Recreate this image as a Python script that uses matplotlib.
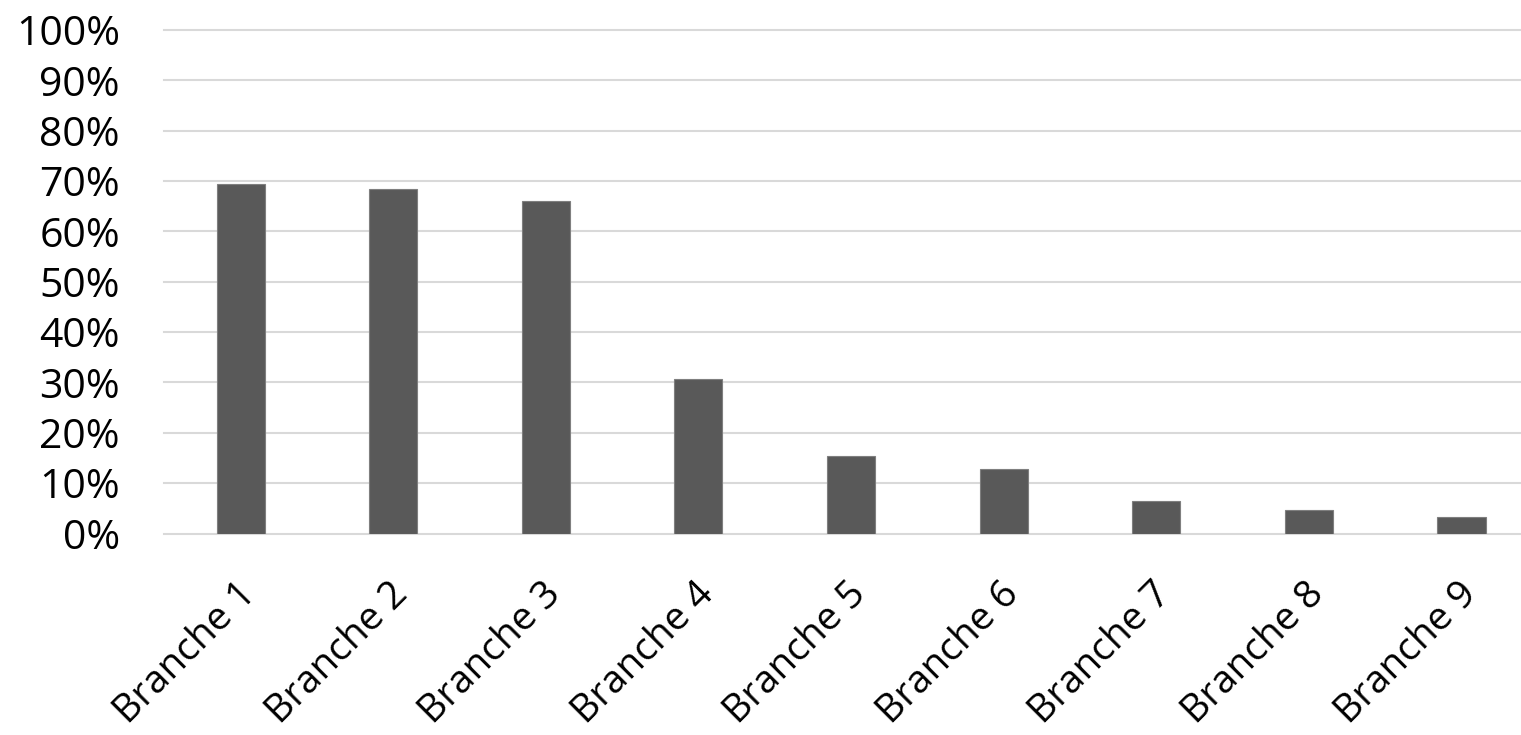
import matplotlib
matplotlib.use("Agg")
import matplotlib.pyplot as plt
from matplotlib.ticker import PercentFormatter
from matplotlib.transforms import ScaledTranslation

categories = ["Branche 1", "Branche 2", "Branche 3", "Branche 4", "Branche 5",
              "Branche 6", "Branche 7", "Branche 8", "Branche 9"]
shares = [0.694, 0.684, 0.660, 0.306, 0.153, 0.129, 0.065, 0.047, 0.032]
y_ticks = [i / 10 for i in range(11)]

plt.rcParams["font.family"] = ["Open Sans", "DejaVu Sans"]

fig = plt.figure(figsize=(15.21, 7.35), dpi=100)
ax = fig.add_axes([0.108, 0.2741, 0.892, 0.6851])

x = list(range(len(categories)))
ax.bar(x, shares, width=0.315, color="#595959", edgecolor="#7f7f7f",
       linewidth=0.8, zorder=3)

ax.set_xlim(-0.5, 8.39)
ax.set_ylim(0, 1)
ax.set_yticks(y_ticks)
ax.yaxis.set_major_formatter(PercentFormatter(1.0, decimals=0))
ax.set_xticks(x)
ax.set_xticklabels(categories, rotation=45, ha="right", va="top",
                   rotation_mode="anchor")

ax.tick_params(axis="y", length=0, pad=32, labelsize=29.5)
ax.tick_params(axis="x", length=0, pad=30, labelsize=28)

# nudge the slanted category labels slightly to the left
shift = ScaledTranslation(-4 / 100, 0, fig.dpi_scale_trans)
for lbl in ax.get_xticklabels():
    lbl.set_transform(lbl.get_transform() + shift)

ax.grid(axis="y", color="#d9d9d9", linewidth=1.5, zorder=0)
for gl in ax.get_ygridlines():
    gl.set_clip_on(False)
ax.grid(axis="x", visible=False)
for s in ax.spines.values():
    s.set_visible(False)

fig.savefig("out.png", dpi=100, facecolor="white")
